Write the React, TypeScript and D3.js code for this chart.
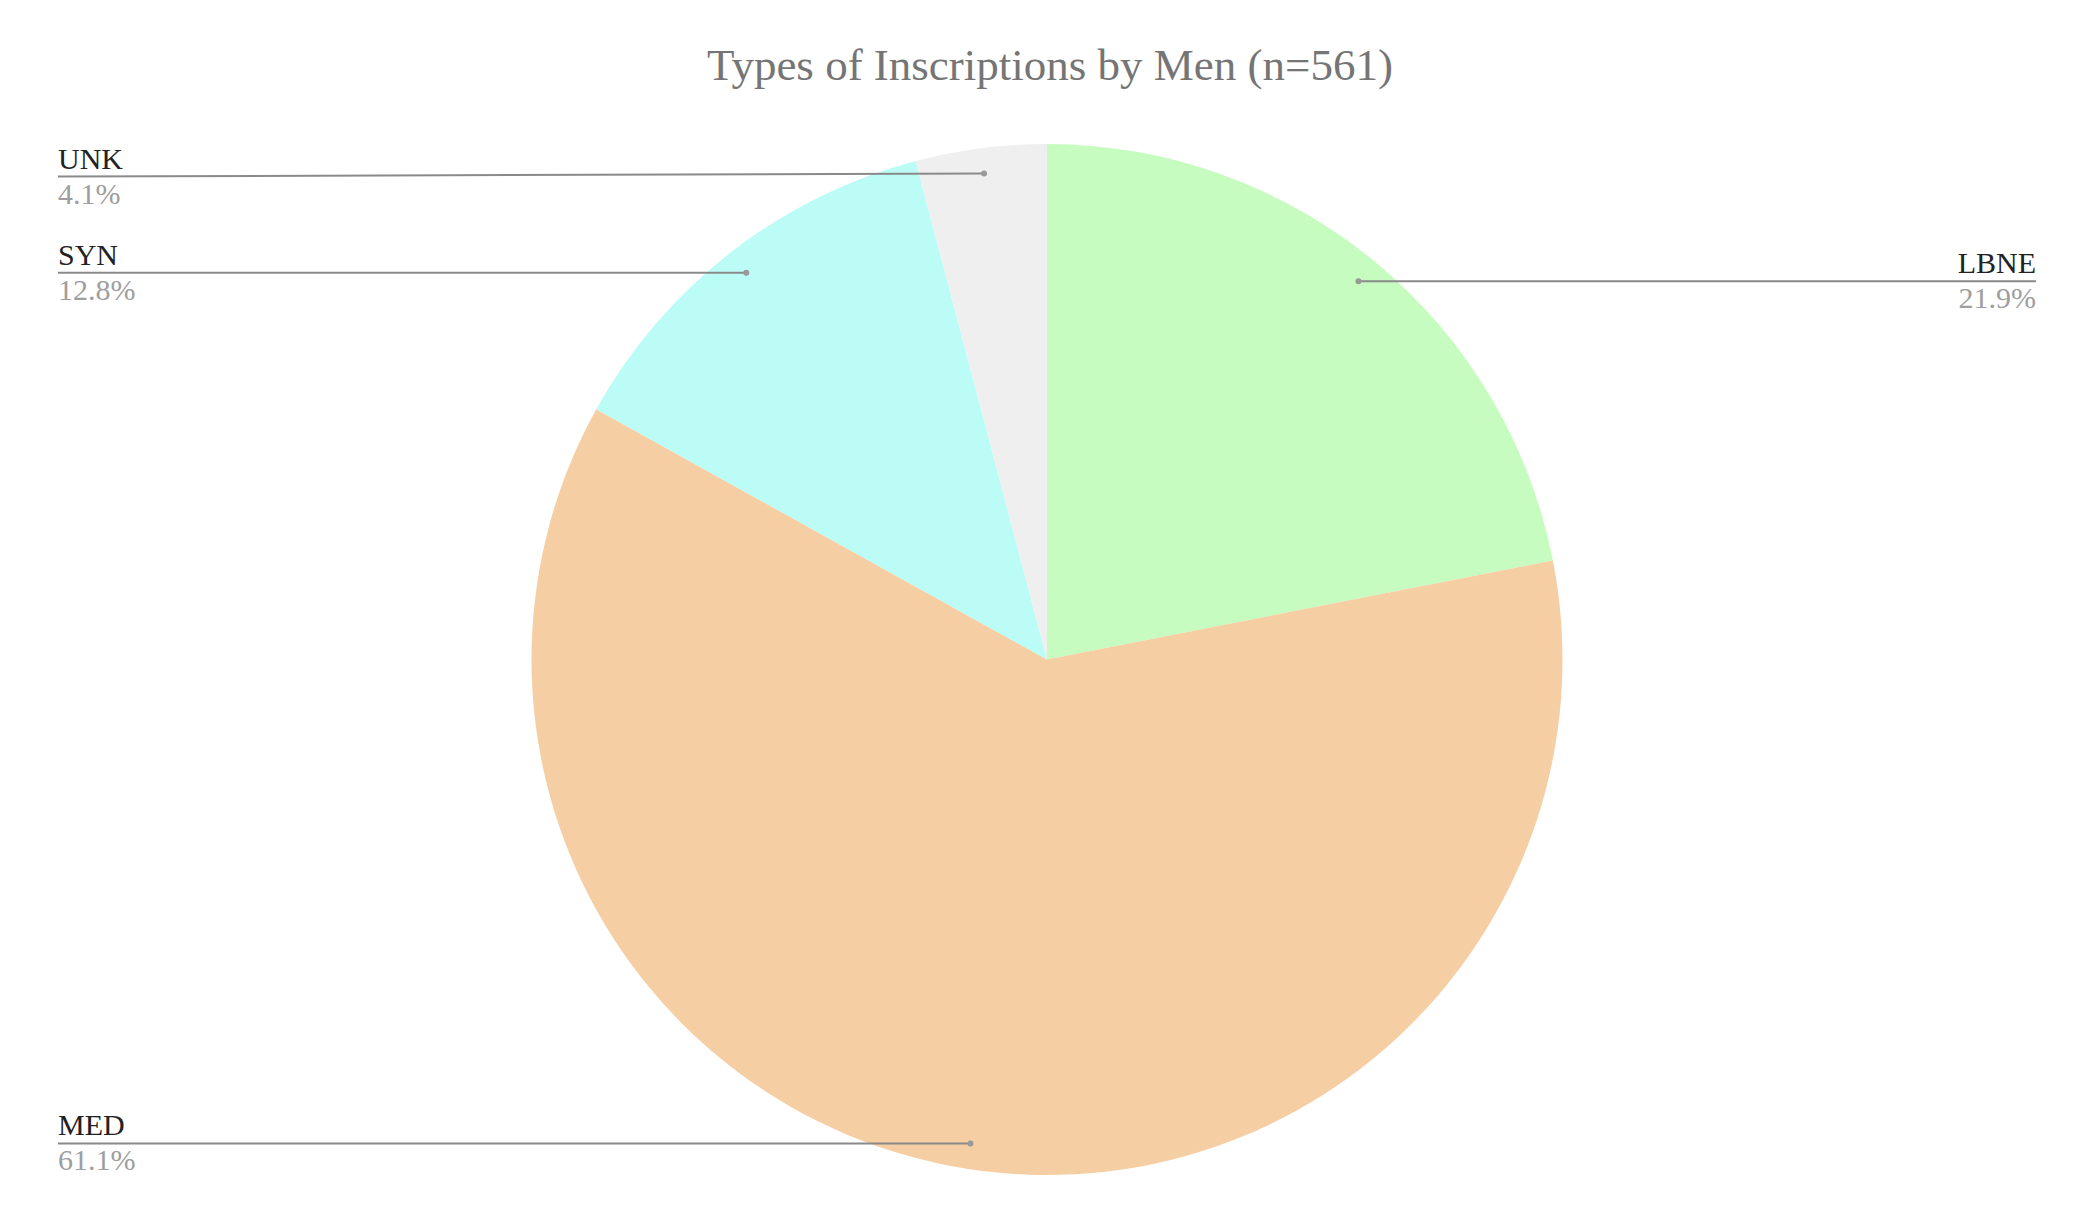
import React, { useEffect, useRef } from 'react';
import * as d3 from 'd3';

// counts out of n=561
const categories = ['LBNE', 'MED', 'SYN', 'UNK'];
const counts = [123, 343, 72, 23];
const percentLabels = ['21.9%', '61.1%', '12.8%', '4.1%'];
const sliceColors = ['#c6fcbf', '#f5cea3', '#bcfcf6', '#efefef'];
const title = 'Types of Inscriptions by Men (n=561)';

const App: React.FC = () => {
  const svgRef = useRef<SVGSVGElement>(null);

  useEffect(() => {
    document.body.style.margin = '0';
    if (!svgRef.current) return;
    const svg = d3.select(svgRef.current);
    svg.selectAll('*').remove();

    const width = 2092;
    const height = 1232;
    const cx = 1047;
    const cy = 659.5;
    const radius = 515.5;
    const leftX = 58;
    const rightX = 2036;
    const font = '"Liberation Serif", "Times New Roman", serif';

    const data = categories.map((c, i) => ({ name: c, value: counts[i], pct: percentLabels[i], color: sliceColors[i] }));

    const pie = d3.pie<typeof data[0]>().value(d => d.value).sort(null);
    const arcs = pie(data);

    const arc = d3.arc<d3.PieArcDatum<typeof data[0]>>().innerRadius(0).outerRadius(radius);
    const anchorArc = d3.arc<d3.PieArcDatum<typeof data[0]>>().innerRadius(490).outerRadius(490);

    svg.attr('width', width).attr('height', height);
    svg.append('rect').attr('width', width).attr('height', height).attr('fill', '#ffffff');

    svg.append('text')
      .attr('x', 1050)
      .attr('y', 80)
      .attr('text-anchor', 'middle')
      .attr('font-family', font)
      .attr('font-size', 45)
      .attr('fill', '#757575')
      .text(title);

    const g = svg.append('g').attr('transform', `translate(${cx},${cy})`);

    g.selectAll('path.slice')
      .data(arcs)
      .join('path')
      .attr('class', 'slice')
      .attr('d', arc)
      .attr('fill', d => d.data.color);

    // labels with leader lines
    const labels = svg.append('g');
    arcs.forEach(a => {
      const [ax, ay] = anchorArc.centroid(a);
      const px = cx + ax;
      const py = cy + ay;
      const isLeft = ax < 0;
      const endX = isLeft ? leftX : rightX;
      const lineY = py + (isLeft && py < 200 ? 3 : 0);

      labels.append('line')
        .attr('x1', px).attr('y1', py)
        .attr('x2', endX).attr('y2', lineY)
        .attr('stroke', '#8a8a8a')
        .attr('stroke-width', 2);

      labels.append('circle')
        .attr('cx', px).attr('cy', py)
        .attr('r', 3)
        .attr('fill', '#999999');

      labels.append('text')
        .attr('x', endX)
        .attr('y', lineY - 8)
        .attr('text-anchor', isLeft ? 'start' : 'end')
        .attr('font-family', font)
        .attr('font-size', 30)
        .attr('fill', '#222222')
        .text(a.data.name);

      labels.append('text')
        .attr('x', endX)
        .attr('y', lineY + 27)
        .attr('text-anchor', isLeft ? 'start' : 'end')
        .attr('font-family', font)
        .attr('font-size', 30)
        .attr('fill', '#9e9e9e')
        .text(a.data.pct);
    });
  }, []);

  return (
    <div style={{ position: 'fixed', top: 0, left: 0 }}>
      <svg ref={svgRef} />
    </div>
  );
};

export default App;
